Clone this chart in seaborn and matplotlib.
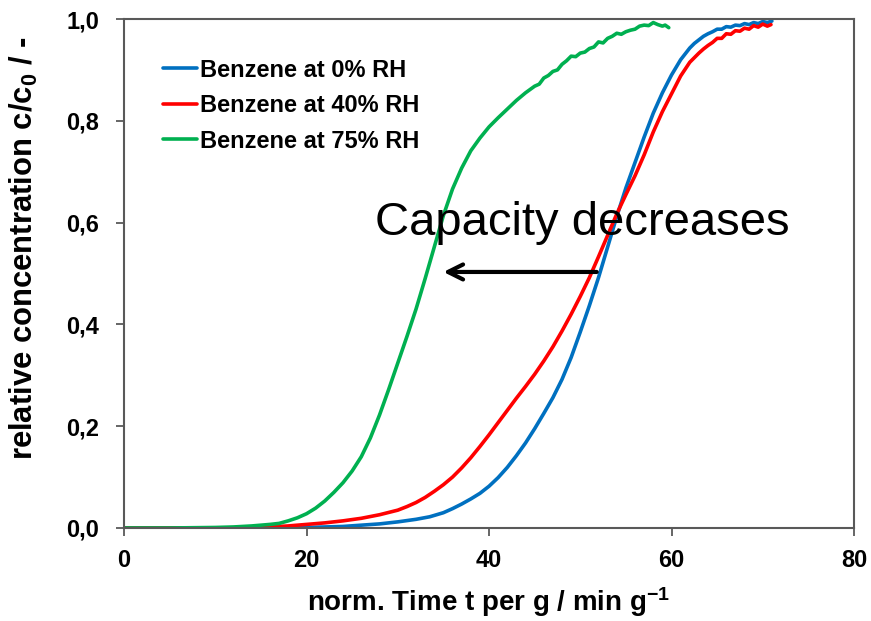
import numpy as np
import pandas as pd
import matplotlib
matplotlib.use("Agg")
import matplotlib.pyplot as plt
from matplotlib.ticker import FuncFormatter
import seaborn as sns

# ---------------- data ----------------
series_names = ["Benzene at 0% RH", "Benzene at 40% RH", "Benzene at 75% RH"]

x_rh0 = [0, 15, 20, 24, 28, 30, 32, 33.5, 35, 36, 37, 38, 39, 40, 41, 42, 43, 44, 45,
         46, 47, 48, 49, 50, 51, 52, 53, 54, 55, 56, 57, 58, 59, 60, 61, 62, 62.5, 63,
         63.5, 64, 64.5, 65, 65.5, 66, 66.5, 67, 67.5, 68, 68.5, 69, 69.5, 70, 70.5, 71]
y_rh0 = [0, 0, 0.001, 0.003, 0.008, 0.012, 0.017, 0.022, 0.030, 0.038, 0.047, 0.057,
         0.068, 0.082, 0.099, 0.119, 0.142, 0.167, 0.195, 0.225, 0.256, 0.292, 0.335,
         0.385, 0.437, 0.492, 0.552, 0.612, 0.668, 0.718, 0.768, 0.815, 0.855, 0.890,
         0.920, 0.943, 0.952, 0.959, 0.966, 0.971, 0.975, 0.980, 0.980, 0.985, 0.984,
         0.988, 0.987, 0.991, 0.989, 0.993, 0.991, 0.995, 0.993, 0.996]

x_rh40 = [0, 10, 15, 18, 20, 22, 24, 26, 28, 30, 31, 32, 33, 34, 35, 36, 37, 38, 39, 40,
          41, 42, 43, 44, 45, 46, 47, 48, 49, 50, 51, 52, 53, 54, 55, 56, 57, 58, 59, 60,
          61, 62, 63, 63.5, 64, 64.5, 65, 65.5, 66, 66.5, 67, 67.5, 68, 68.5, 69, 69.5,
          70, 70.5, 70.9]
y_rh40 = [0, 0, 0.001, 0.004, 0.007, 0.010, 0.014, 0.019, 0.026, 0.035, 0.042, 0.050,
          0.060, 0.072, 0.085, 0.100, 0.118, 0.138, 0.160, 0.183, 0.207, 0.231, 0.255,
          0.278, 0.302, 0.328, 0.356, 0.387, 0.420, 0.455, 0.492, 0.533, 0.575, 0.617,
          0.655, 0.692, 0.733, 0.778, 0.818, 0.853, 0.888, 0.915, 0.933, 0.941, 0.948,
          0.954, 0.962, 0.962, 0.971, 0.970, 0.977, 0.976, 0.982, 0.980, 0.987, 0.984,
          0.990, 0.986, 0.989]

x_rh75 = [0, 5, 10, 12, 14, 16, 17, 18, 19, 20, 21, 22, 23, 24, 25, 26, 27, 28, 29, 30,
          31, 32, 33, 34, 35, 36, 37, 38, 39, 40, 41, 42, 43, 44, 45, 45.5, 46, 46.5, 47,
          47.5, 48, 48.5, 49, 49.5, 50, 50.5, 51, 51.5, 52, 52.5, 53, 53.5, 54, 54.5, 55,
          55.5, 56, 56.5, 57, 57.5, 58, 58.5, 59, 59.3, 59.7]
y_rh75 = [0, 0, 0.001, 0.002, 0.004, 0.007, 0.009, 0.014, 0.020, 0.028, 0.039, 0.053,
          0.070, 0.089, 0.112, 0.140, 0.177, 0.222, 0.272, 0.324, 0.376, 0.430, 0.490,
          0.552, 0.614, 0.666, 0.707, 0.741, 0.766, 0.788, 0.806, 0.823, 0.840, 0.855,
          0.868, 0.872, 0.884, 0.889, 0.897, 0.900, 0.911, 0.918, 0.927, 0.926, 0.933,
          0.935, 0.942, 0.945, 0.955, 0.953, 0.962, 0.966, 0.972, 0.970, 0.975, 0.978,
          0.980, 0.986, 0.988, 0.987, 0.993, 0.989, 0.986, 0.988, 0.983]

x_ticks = [0, 20, 40, 60, 80]
y_ticks = [0.0, 0.2, 0.4, 0.6, 0.8, 1.0]

annotation_text = "Capacity decreases"
arrow_start = (51.8, 0.503)
arrow_end = (35.0, 0.503)
text_pos = (27.5, 0.576)

# ---------------- build table ----------------
frames = []
for name, xs, ys in zip(series_names, [x_rh0, x_rh40, x_rh75], [y_rh0, y_rh40, y_rh75]):
    frames.append(pd.DataFrame({"t": xs, "c": ys, "series": name}))
df = pd.concat(frames, ignore_index=True)

palette = {series_names[0]: "#0070C0", series_names[1]: "#FF0000", series_names[2]: "#00B050"}

# ---------------- plotting ----------------
sns.set_theme(style="white")
plt.rcParams["font.family"] = ["Liberation Sans", "DejaVu Sans"]
plt.rcParams["mathtext.fontset"] = "custom"
plt.rcParams["mathtext.rm"] = "Liberation Sans"
plt.rcParams["mathtext.bf"] = "Liberation Sans:bold"
plt.rcParams["mathtext.default"] = "bf"
plt.rcParams["text.color"] = "black"
plt.rcParams["axes.labelcolor"] = "black"
plt.rcParams["xtick.labelcolor"] = "black"
plt.rcParams["ytick.labelcolor"] = "black"

fig = plt.figure(figsize=(8.71, 6.21), dpi=100)
ax = fig.add_axes([0.1424, 0.1498, 0.8381, 0.8196])

sns.lineplot(data=df, x="t", y="c", hue="series", palette=palette, hue_order=series_names,
             sort=False, estimator=None, linewidth=2.6, ax=ax)

ax.set_xlim(0, 80)
ax.set_ylim(0, 1.0)
ax.set_xticks(x_ticks)
ax.set_yticks(y_ticks)
ax.xaxis.set_major_formatter(FuncFormatter(lambda v, p: f"{v:.0f}"))
ax.yaxis.set_major_formatter(FuncFormatter(lambda v, p: f"{v:.1f}".replace(".", ",")))

for s in ax.spines.values():
    s.set_color("#595959")
    s.set_linewidth(1.5)
ax.tick_params(axis="both", which="major", direction="out", length=6, width=1.3,
               color="#595959", labelsize=17, bottom=True, left=True)
ax.tick_params(axis="x", pad=9)
ax.tick_params(axis="y", pad=12)
for lab in ax.get_xticklabels() + ax.get_yticklabels():
    lab.set_fontweight("bold")

ax.set_xlabel("norm. Time t per g / min g$^{-1}$", fontsize=20, fontweight="bold", labelpad=10)
ax.set_ylabel("relative concentration c/c$_0$ / -", fontsize=22.3, fontweight="bold")
ax.yaxis.set_label_coords(-0.115, 0.55)

handles, labels = ax.get_legend_handles_labels()
ax.legend(handles, labels, loc="upper left", bbox_to_anchor=(0.054, 0.922), frameon=False,
          prop={"weight": "bold", "size": 17}, handlelength=1.4, handletextpad=0.15,
          labelspacing=0.53, borderaxespad=0, borderpad=0)

ax.text(text_pos[0], text_pos[1], annotation_text, fontsize=34, color="black",
        ha="left", va="baseline")
ax.annotate("", xy=arrow_end, xytext=arrow_start,
            arrowprops=dict(arrowstyle="->,head_length=0.9,head_width=0.45", lw=3,
                            color="black", shrinkA=0, shrinkB=0))

fig.savefig("out.png", dpi=100)
